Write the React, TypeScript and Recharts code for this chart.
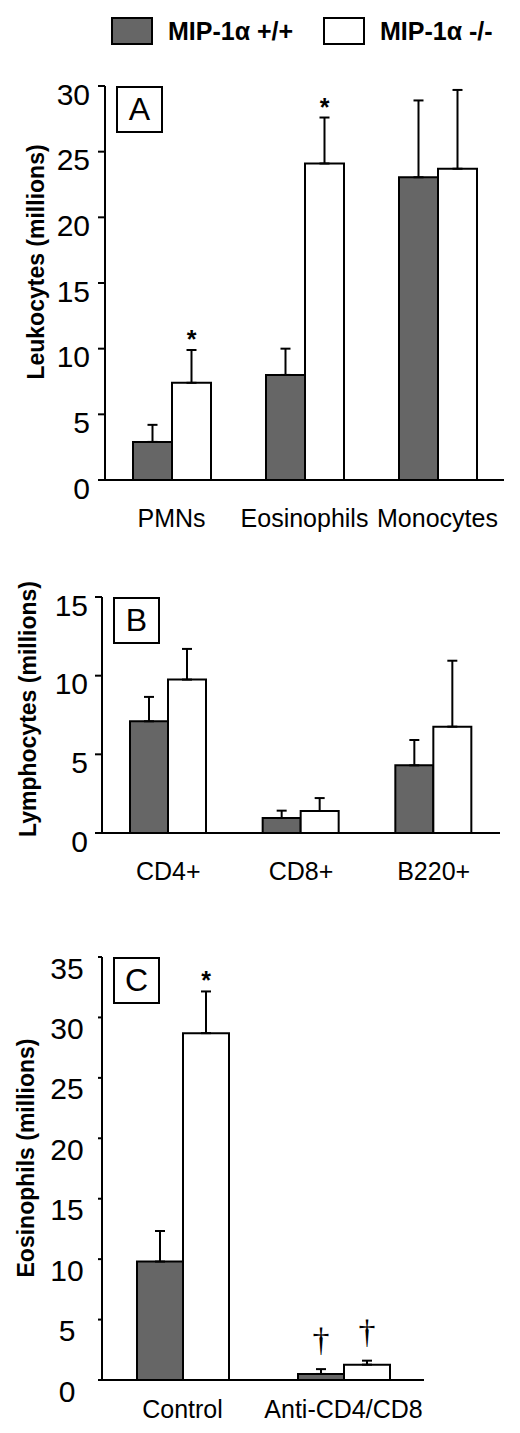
import React from 'react';
import { BarChart, Bar, XAxis, YAxis, ErrorBar, LabelList } from 'recharts';

// legend
const seriesNames = ['MIP-1α +/+', 'MIP-1α -/-'];

// panel A
const leukoCats = ['PMNs', 'Eosinophils', 'Monocytes'];
const leukoWT = [2.9, 8.0, 23.05];
const leukoWTErr = [1.3, 2.0, 5.85];
const leukoKO = [7.4, 24.1, 23.7];
const leukoKOErr = [2.5, 3.5, 6.0];
const leukoWTMarks = ['', '', ''];
const leukoKOMarks = ['*', '*', ''];
const leukoTicks = [0, 5, 10, 15, 20, 25, 30];

// panel B
const lymphCats = ['CD4+', 'CD8+', 'B220+'];
const lymphWT = [7.1, 0.95, 4.3];
const lymphWTErr = [1.55, 0.47, 1.61];
const lymphKO = [9.75, 1.4, 6.76];
const lymphKOErr = [1.95, 0.82, 4.19];
const lymphWTMarks = ['', '', ''];
const lymphKOMarks = ['', '', ''];
const lymphTicks = [0, 5, 10, 15];

// panel C
const eosCats = ['Control', 'Anti-CD4/CD8'];
const eosWT = [9.8, 0.5];
const eosWTErr = [2.53, 0.4];
const eosKO = [28.7, 1.27];
const eosKOErr = [3.45, 0.33];
const eosWTMarks = ['', '†'];
const eosKOMarks = ['*', '†'];
const eosTicks = [0, 5, 10, 15, 20, 25, 30, 35];

const DARK = '#666666';
const SANS = '"Liberation Sans", Arial, Helvetica, sans-serif';
const SERIF = '"Liberation Serif", "Times New Roman", serif';

function buildRows(cats, wt, wtErr, ko, koErr, wtMarks, koMarks) {
  return cats.map((name, i) => ({
    name,
    wt: wt[i],
    wtErr: [0, wtErr[i]],
    ko: ko[i],
    koErr: [0, koErr[i]],
    wtMark: wtMarks[i],
    koMark: koMarks[i],
  }));
}

const rowsA = buildRows(leukoCats, leukoWT, leukoWTErr, leukoKO, leukoKOErr, leukoWTMarks, leukoKOMarks);
const rowsB = buildRows(lymphCats, lymphWT, lymphWTErr, lymphKO, lymphKOErr, lymphWTMarks, lymphKOMarks);
const rowsC = buildRows(eosCats, eosWT, eosWTErr, eosKO, eosKOErr, eosWTMarks, eosKOMarks);

// star / dagger drawn above the top of the error bar
const markRenderer = (rows, key) => (props) => {
  const vb = props.viewBox || props;
  const idx = props.index;
  if (idx == null || !rows[idx]) return null;
  const mark = rows[idx][key + 'Mark'];
  if (!mark) return null;
  const value = rows[idx][key];
  const err = rows[idx][key + 'Err'][1];
  const errPx = (vb.height / value) * err;
  const top = vb.y - errPx;
  const cx = vb.x + vb.width / 2;
  if (mark === '†') {
    return (
      <text x={cx} y={top - 18} textAnchor="middle" fontFamily={SERIF} fontSize={34} fill="#000">
        {mark}
      </text>
    );
  }
  return (
    <text x={cx} y={top - 2} textAnchor="middle" fontFamily={SANS} fontWeight="bold" fontSize={25} fill="#000">
      {mark}
    </text>
  );
};

const XTick = ({ x, y, payload, drop }) => (
  <text x={x} y={y + drop} textAnchor="middle" fontFamily={SANS} fontSize={25} fill="#000">
    {payload.value}
  </text>
);

const YTick = ({ x, y, payload, anchor, shift }) => (
  <text
    x={x}
    y={y + shift}
    textAnchor={anchor}
    dominantBaseline="central"
    fontFamily={SANS}
    fontSize={30}
    fill="#000"
  >
    {payload.value}
  </text>
);

function Panel({
  top, height, rows, ticks, max, margin, yWidth, xHeight, barSize,
  tickSize, tickMargin, tickAnchor, tickShift, xDrop,
  yLabel, yLabelX, yLabelY, letter,
}) {
  const yLab = () => (
    <text
      x={yLabelX}
      y={yLabelY}
      transform={`rotate(-90, ${yLabelX}, ${yLabelY})`}
      textAnchor="middle"
      dominantBaseline="central"
      fontFamily={SANS}
      fontWeight="bold"
      fontSize={23}
      fill="#000"
    >
      {yLabel}
    </text>
  );
  const plotTop = margin.top;
  const plotLeft = yWidth;
  return (
    <div style={{ position: 'absolute', left: 0, top, width: 520, height }}>
      <BarChart width={520} height={height} data={rows} margin={margin} barGap={0}>
        <XAxis
          dataKey="name"
          height={xHeight}
          axisLine={{ stroke: '#000', strokeWidth: 2 }}
          tickLine={false}
          tickSize={0}
          tickMargin={0}
          interval={0}
          tick={<XTick drop={xDrop} />}
        />
        <YAxis
          width={yWidth}
          domain={[0, max]}
          ticks={ticks}
          interval={0}
          allowDataOverflow
          axisLine={{ stroke: '#000', strokeWidth: 2 }}
          tickLine={{ stroke: '#000', strokeWidth: 2 }}
          tickSize={tickSize}
          tickMargin={tickMargin}
          tick={<YTick anchor={tickAnchor} shift={tickShift} />}
          label={{ content: yLab }}
        />
        <Bar dataKey="wt" fill={DARK} stroke="#000" strokeWidth={2} barSize={barSize} isAnimationActive={false}>
          <ErrorBar dataKey="wtErr" direction="y" width={5} stroke="#000" strokeWidth={2} />
          <LabelList dataKey="wtMark" content={markRenderer(rows, 'wt')} />
        </Bar>
        <Bar dataKey="ko" fill="#fff" stroke="#000" strokeWidth={2} barSize={barSize} isAnimationActive={false}>
          <ErrorBar dataKey="koErr" direction="y" width={5} stroke="#000" strokeWidth={2} />
          <LabelList dataKey="koMark" content={markRenderer(rows, 'ko')} />
        </Bar>
      </BarChart>
      <div
        style={{
          position: 'absolute',
          left: plotLeft + 11,
          top: plotTop,
          width: 43,
          height: 43,
          border: '2px solid #000',
          fontFamily: SANS,
          fontSize: 32,
          lineHeight: '43px',
          textAlign: 'center',
          background: '#fff',
        }}
      >
        {letter}
      </div>
    </div>
  );
}

function LegendItem({ fill, label, left }) {
  return (
    <div style={{ position: 'absolute', left, top: 17, height: 28, display: 'flex', alignItems: 'center' }}>
      <div style={{ width: 38, height: 24, border: '2px solid #000', background: fill }} />
      <span style={{ marginLeft: 15, fontFamily: SANS, fontWeight: 'bold', fontSize: 25, color: '#000', whiteSpace: 'nowrap' }}>
        {label}
      </span>
    </div>
  );
}

export default function App() {
  return (
    <div style={{ position: 'absolute', left: 0, top: 0, width: 520, height: 1433, background: '#fff', overflow: 'hidden' }}>
      <LegendItem fill={DARK} label={seriesNames[0]} left={111} />
      <LegendItem fill="#fff" label={seriesNames[1]} left={323} />
      <Panel
        top={0}
        height={540}
        rows={rowsA}
        ticks={leukoTicks}
        max={30}
        margin={{ top: 86, right: 16, bottom: 0, left: 0 }}
        yWidth={105}
        xHeight={60}
        barSize={39}
        tickSize={7}
        tickMargin={8}
        tickAnchor="end"
        tickShift={8}
        xDrop={47}
        yLabel="Leukocytes (millions)"
        yLabelX={36}
        yLabelY={262}
        letter="A"
      />
      <Panel
        top={540}
        height={360}
        rows={rowsB}
        ticks={lymphTicks}
        max={15}
        margin={{ top: 57, right: 20, bottom: 0, left: 0 }}
        yWidth={102}
        xHeight={67}
        barSize={38}
        tickSize={7}
        tickMargin={7}
        tickAnchor="end"
        tickShift={8}
        xDrop={47}
        yLabel="Lymphocytes (millions)"
        yLabelX={28}
        yLabelY={169}
        letter="B"
      />
      <Panel
        top={930}
        height={503}
        rows={rowsC}
        ticks={eosTicks}
        max={35}
        margin={{ top: 27, right: 96, bottom: 0, left: 0 }}
        yWidth={102}
        xHeight={53}
        barSize={46}
        tickSize={4}
        tickMargin={31}
        tickAnchor="middle"
        tickShift={11}
        xDrop={38}
        yLabel="Eosinophils (millions)"
        yLabelX={26}
        yLabelY={228}
        letter="C"
      />
    </div>
  );
}
